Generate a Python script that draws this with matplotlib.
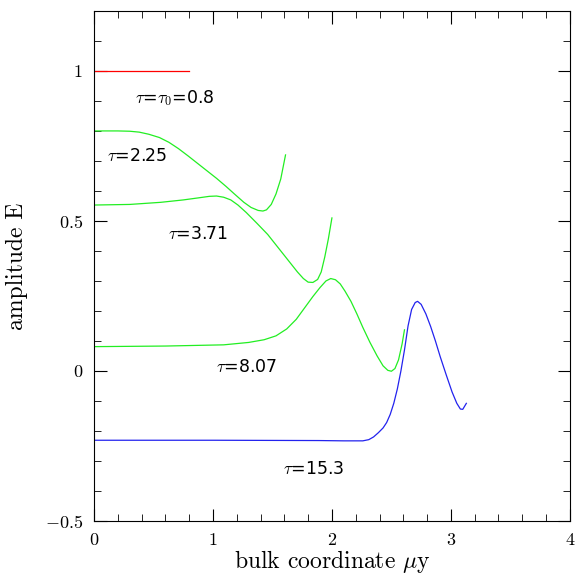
import numpy as np
import matplotlib
matplotlib.use('Agg')
import matplotlib.pyplot as plt
from matplotlib.ticker import MultipleLocator, FuncFormatter

plt.rcParams['font.family'] = 'cmr10'
plt.rcParams['mathtext.fontset'] = 'cm'
plt.rcParams['axes.formatter.use_mathtext'] = True

# curves
x_08 = [0.0, 0.8]
y_08 = [1.0, 1.0]

x_225 = [0.0, 0.2, 0.3, 0.38, 0.46, 0.55, 0.63, 0.71, 0.79, 0.87, 0.95, 1.03, 1.11, 1.18, 1.26, 1.32, 1.38, 1.42, 1.45, 1.49, 1.53, 1.57, 1.61]
y_225 = [0.80, 0.80, 0.799, 0.796, 0.789, 0.778, 0.762, 0.741, 0.717, 0.692, 0.667, 0.642, 0.615, 0.59, 0.562, 0.545, 0.535, 0.533, 0.537, 0.555, 0.59, 0.64, 0.72]

x_371 = [0.0, 0.3, 0.56, 0.75, 0.88, 0.97, 1.03, 1.09, 1.15, 1.21, 1.28, 1.37, 1.46, 1.54, 1.63, 1.71, 1.76, 1.80, 1.84, 1.88, 1.91, 1.94, 1.97, 2.0]
y_371 = [0.553, 0.555, 0.562, 0.57, 0.577, 0.582, 0.583, 0.579, 0.57, 0.553, 0.528, 0.492, 0.455, 0.415, 0.37, 0.33, 0.308, 0.296, 0.295, 0.305, 0.33, 0.38, 0.44, 0.51]

x_807 = [0.0, 0.6, 1.09, 1.3, 1.43, 1.53, 1.62, 1.7, 1.77, 1.84, 1.90, 1.95, 1.99, 2.03, 2.07, 2.11, 2.16, 2.21, 2.26, 2.32, 2.38, 2.43, 2.47, 2.50, 2.53, 2.56, 2.59, 2.61]
y_807 = [0.081, 0.083, 0.087, 0.095, 0.104, 0.117, 0.14, 0.172, 0.21, 0.248, 0.278, 0.3, 0.308, 0.304, 0.29, 0.266, 0.232, 0.19, 0.145, 0.095, 0.05, 0.017, 0.002, -0.001, 0.008, 0.037, 0.09, 0.137]

x_153 = [0.0, 1.0, 1.89, 2.1, 2.26, 2.31, 2.35, 2.39, 2.43, 2.46, 2.49, 2.52, 2.55, 2.58, 2.61, 2.64, 2.67, 2.70, 2.72, 2.75, 2.79, 2.83, 2.87, 2.91, 2.96, 3.01, 3.05, 3.08, 3.10, 3.13]
y_153 = [-0.231, -0.231, -0.232, -0.233, -0.233, -0.229, -0.22, -0.206, -0.19, -0.172, -0.145, -0.108, -0.06, 0.0, 0.07, 0.15, 0.205, 0.228, 0.232, 0.222, 0.19, 0.148, 0.1, 0.048, -0.012, -0.07, -0.108, -0.127, -0.128, -0.108]

labels = [r'$\tau$=$\tau_0$=0.8', r'$\tau$=2.25', r'$\tau$=3.71', r'$\tau$=8.07', r'$\tau$=15.3']
label_x = [0.68, 0.36, 0.87, 1.28, 1.85]
label_y = [0.91, 0.716, 0.455, 0.013, -0.328]

green = '#22ee22'

fig = plt.figure(figsize=(5.75, 5.75), dpi=100)
ax = fig.add_axes([0.1635, 0.094, 0.8275, 0.887])

ax.plot(x_08, y_08, color='#ff0000', lw=0.9)
ax.plot(x_225, y_225, color=green, lw=0.9)
ax.plot(x_371, y_371, color=green, lw=0.9)
ax.plot(x_807, y_807, color=green, lw=0.9)
ax.plot(x_153, y_153, color='#2222ee', lw=0.9)

for t, lx, ly in zip(labels, label_x, label_y):
    ax.text(lx, ly, t, ha='center', va='center', fontsize=12.5,
            family='DejaVu Sans')


def fmt(v, pos):
    return f'${v:g}$'


ax.set_xlim(0, 4)
ax.set_ylim(-0.5, 1.2)
ax.xaxis.set_major_locator(MultipleLocator(1))
ax.xaxis.set_minor_locator(MultipleLocator(0.2))
ax.yaxis.set_major_locator(MultipleLocator(0.5))
ax.yaxis.set_minor_locator(MultipleLocator(0.1))
ax.xaxis.set_major_formatter(FuncFormatter(fmt))
ax.yaxis.set_major_formatter(FuncFormatter(fmt))
ax.tick_params(which='both', direction='in', top=True, right=True, labelsize=13)
ax.tick_params(which='major', length=9, pad=8)
ax.tick_params(which='minor', length=5)

ax.set_xlabel(r'bulk coordinate $\mu$y', fontsize=17, labelpad=0)
ax.set_ylabel('amplitude E', fontsize=17, labelpad=12)

fig.savefig('out.png', dpi=100)
